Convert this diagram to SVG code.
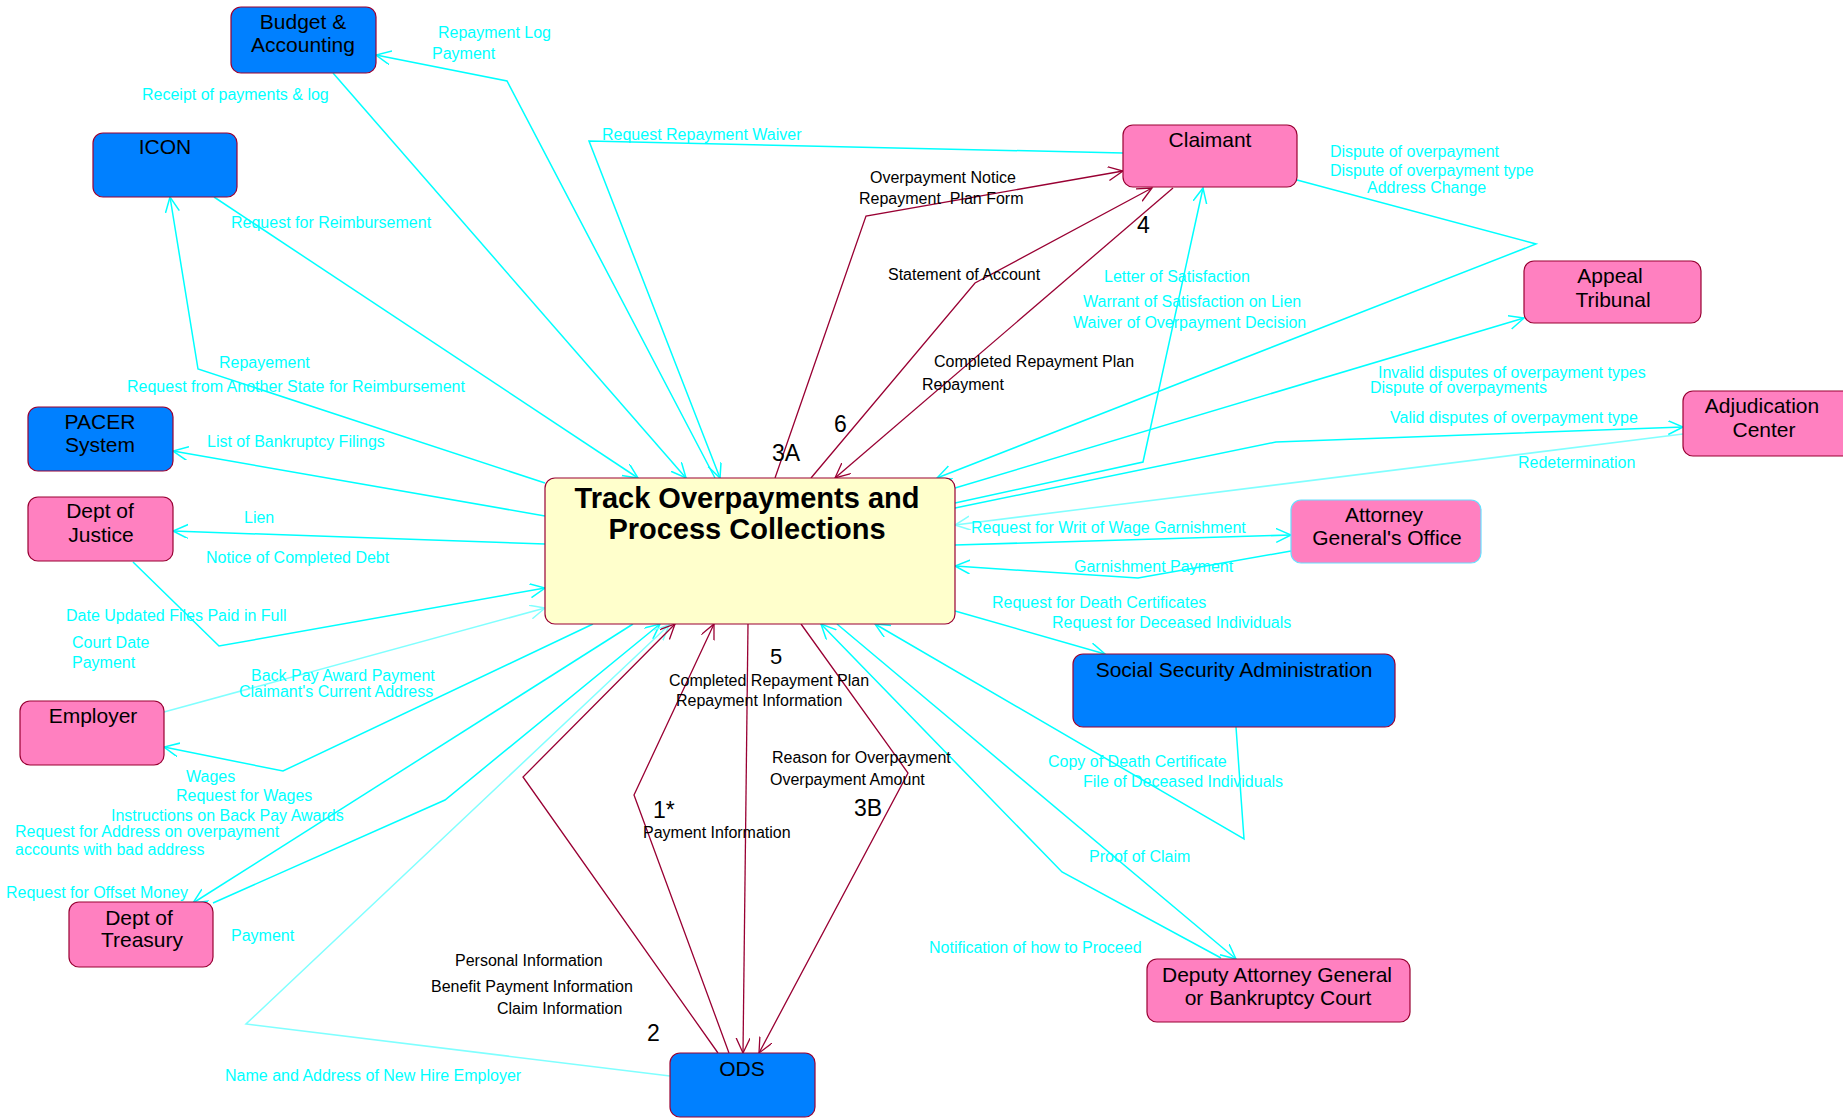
<svg xmlns="http://www.w3.org/2000/svg" width="1843" height="1118" viewBox="0 0 1843 1118">
<style>
.n rect{stroke:#990033;stroke-width:1.2}
.blue{fill:#0080FF}
.pink{fill:#FF80C0}
.yel{fill:#FFFFCC}
.nt{font-family:"Liberation Sans",Arial,sans-serif;font-size:21px;fill:#000;text-anchor:middle}
.tt{font-family:"Liberation Sans",Arial,sans-serif;font-size:29px;font-weight:bold;fill:#000;text-anchor:middle}
.c{fill:none;stroke:#00FFFF;stroke-width:1.5}
.cl{fill:none;stroke:#80FFFF;stroke-width:1.5}
.r{fill:none;stroke:#990033;stroke-width:1.3}
.lc{font-family:"Liberation Sans",Arial,sans-serif;font-size:16px;fill:#00FFFF}
.lb{font-family:"Liberation Sans",Arial,sans-serif;font-size:16px;fill:#000}
.num{font-family:"Liberation Sans",Arial,sans-serif;font-size:23px;fill:#000}
</style>
<defs>
<marker id="ac" markerUnits="userSpaceOnUse" markerWidth="18" markerHeight="16" refX="15" refY="7" orient="auto"><path d="M0,0 L15,7 L0,14" fill="none" stroke="#00FFFF" stroke-width="1.5"/></marker>
<marker id="acl" markerUnits="userSpaceOnUse" markerWidth="18" markerHeight="16" refX="15" refY="7" orient="auto"><path d="M0,0 L15,7 L0,14" fill="none" stroke="#80FFFF" stroke-width="1.5"/></marker>
<marker id="ar" markerUnits="userSpaceOnUse" markerWidth="18" markerHeight="16" refX="15" refY="7" orient="auto"><path d="M0,0 L15,7 L0,14" fill="none" stroke="#990033" stroke-width="1.3"/></marker>
</defs>
<rect width="1843" height="1118" fill="#FFFFFF"/>

<g id="connectors">
<path class="c" d="M333,73 L686,478" marker-end="url(#ac)"/>
<path class="c" d="M715,478 L507,81 L376,55" marker-end="url(#ac)"/>
<path class="c" d="M214,197 L638,478" marker-end="url(#ac)"/>
<path class="c" d="M545,483 L198,369 L170,197" marker-end="url(#ac)"/>
<path class="c" d="M545,516 L173,451" marker-end="url(#ac)"/>
<path class="c" d="M545,544 L173,531" marker-end="url(#ac)"/>
<path class="c" d="M133,562 L219,646 L545,588" marker-end="url(#ac)"/>
<path class="cl" d="M164,712 L545,608" marker-end="url(#acl)"/>
<path class="c" d="M593,624 L283,771 L164,747" marker-end="url(#ac)"/>
<path class="c" d="M633,624 L193,903" marker-end="url(#ac)"/>
<path class="c" d="M213,903 L445,800 L660,624" marker-end="url(#ac)"/>
<path class="cl" d="M670,1076 L246,1024 L669,625" marker-end="url(#acl)"/>
<path class="c" d="M1123,153 L589,141 L720,478" marker-end="url(#ac)"/>
<path class="c" d="M1297,180 L1536,244 L937,478" marker-end="url(#ac)"/>
<path class="c" d="M955,488 L1524,318" marker-end="url(#ac)"/>
<path class="c" d="M955,503 L1143,462 L1203,188" marker-end="url(#ac)"/>
<path class="c" d="M955,508 L1276,442 L1683,427" marker-end="url(#ac)"/>
<path class="cl" d="M1683,434 L955,525" marker-end="url(#acl)"/>
<path class="c" d="M955,545 L1291,535" marker-end="url(#ac)"/>
<path class="c" d="M1291,551 L1138,578 L955,566" marker-end="url(#ac)"/>
<path class="c" d="M955,611 L1105,654" marker-end="url(#ac)"/>
<path class="c" d="M1236,727 L1244,839 L875,624" marker-end="url(#ac)"/>
<path class="c" d="M837,624 L1236,959" marker-end="url(#ac)"/>
<path class="c" d="M1221,958 L1062,872 L821,624" marker-end="url(#ac)"/>
<path class="r" d="M775,478 L866,216 L1123,171" marker-end="url(#ar)"/>
<path class="r" d="M811,478 L975,283 L1152,188" marker-end="url(#ar)"/>
<path class="r" d="M1173,188 L835,478" marker-end="url(#ar)"/>
<path class="r" d="M718,1053 L523,777 L675,624" marker-end="url(#ar)"/>
<path class="r" d="M729,1053 L634,795 L714,624" marker-end="url(#ar)"/>
<path class="r" d="M748,624 L743,1053" marker-end="url(#ar)"/>
<path class="r" d="M801,624 L908,773 L759,1053" marker-end="url(#ar)"/>
</g>

<g id="labels">
<text class="lc" x="438" y="38">Repayment Log</text>
<text class="lc" x="432" y="59">Payment</text>
<text class="lc" x="142" y="100">Receipt of payments &amp; log</text>
<text class="lc" x="602" y="140">Request Repayment Waiver</text>
<text class="lc" x="231" y="228">Request for Reimbursement</text>
<text class="lc" x="219" y="368">Repayement</text>
<text class="lc" x="127" y="392">Request from Another State for Reimbursement</text>
<text class="lc" x="207" y="447">List of Bankruptcy Filings</text>
<text class="lc" x="244" y="523">Lien</text>
<text class="lc" x="206" y="563">Notice of Completed Debt</text>
<text class="lc" x="66" y="621">Date Updated Files Paid in Full</text>
<text class="lc" x="72" y="648">Court Date</text>
<text class="lc" x="72" y="668">Payment</text>
<text class="lc" x="251" y="681">Back Pay Award Payment</text>
<text class="lc" x="239" y="697">Claimant's Current Address</text>
<text class="lc" x="186" y="782">Wages</text>
<text class="lc" x="176" y="801">Request for Wages</text>
<text class="lc" x="111" y="821">Instructions on Back Pay Awards</text>
<text class="lc" x="15" y="837">Request for Address on overpayment</text>
<text class="lc" x="15" y="855">accounts with bad address</text>
<text class="lc" x="6" y="898">Request for Offset Money</text>
<text class="lc" x="231" y="941">Payment</text>
<text class="lc" x="225" y="1081">Name and Address of New Hire Employer</text>
<text class="lc" x="1104" y="282">Letter of Satisfaction</text>
<text class="lc" x="1083" y="307">Warrant of Satisfaction on Lien</text>
<text class="lc" x="1073" y="328">Waiver of Overpayment Decision</text>
<text class="lc" x="1330" y="157">Dispute of overpayment</text>
<text class="lc" x="1330" y="176">Dispute of overpayment type</text>
<text class="lc" x="1367" y="193">Address Change</text>
<text class="lc" x="1378" y="378">Invalid disputes of overpayment types</text>
<text class="lc" x="1370" y="393">Dispute of overpayments</text>
<text class="lc" x="1390" y="423">Valid disputes of overpayment type</text>
<text class="lc" x="1518" y="468">Redetermination</text>
<text class="lc" x="971" y="533">Request for Writ of Wage Garnishment</text>
<text class="lc" x="1074" y="572">Garnishment Payment</text>
<text class="lc" x="992" y="608">Request for Death Certificates</text>
<text class="lc" x="1052" y="628">Request for Deceased Individuals</text>
<text class="lc" x="1048" y="767">Copy of Death Certificate</text>
<text class="lc" x="1083" y="787">File of Deceased Individuals</text>
<text class="lc" x="1089" y="862">Proof of Claim</text>
<text class="lc" x="929" y="953">Notification of how to Proceed</text>

<text class="lb" x="870" y="183">Overpayment Notice</text>
<text class="lb" x="859" y="204" xml:space="preserve">Repayment  Plan Form</text>
<text class="lb" x="888" y="280">Statement of Account</text>
<text class="lb" x="934" y="367">Completed Repayment Plan</text>
<text class="lb" x="922" y="390">Repayment</text>
<text class="lb" x="669" y="686">Completed Repayment Plan</text>
<text class="lb" x="676" y="706">Repayment Information</text>
<text class="lb" x="772" y="763">Reason for Overpayment</text>
<text class="lb" x="770" y="785">Overpayment Amount</text>
<text class="lb" x="643" y="838">Payment Information</text>
<text class="lb" x="455" y="966">Personal Information</text>
<text class="lb" x="431" y="992">Benefit Payment Information</text>
<text class="lb" x="497" y="1014">Claim Information</text>
<text class="num" x="772" y="461">3A</text>
<text class="num" x="834" y="432">6</text>
<text class="num" x="1137" y="233">4</text>
<text class="num" x="770" y="664" style="font-size:22px">5</text>
<text class="num" x="854" y="816">3B</text>
<text class="num" x="653" y="818">1*</text>
<text class="num" x="647" y="1041">2</text>
</g>

<g id="node-process" class="n"><rect class="yel" x="545" y="478" width="410" height="146" rx="10"/><text class="tt" x="747" y="508">Track Overpayments and</text><text class="tt" x="747" y="539">Process Collections</text></g>
<g id="node-budget" class="n"><rect class="blue" x="231" y="7" width="145" height="66" rx="10"/><text class="nt" x="303" y="29">Budget &amp;</text><text class="nt" x="303" y="52">Accounting</text></g>
<g id="node-icon" class="n"><rect class="blue" x="93" y="133" width="144" height="64" rx="10"/><text class="nt" x="165" y="154">ICON</text></g>
<g id="node-pacer" class="n"><rect class="blue" x="28" y="407" width="145" height="64" rx="10"/><text class="nt" x="100" y="429">PACER</text><text class="nt" x="100" y="452">System</text></g>
<g id="node-doj" class="n"><rect class="pink" x="28" y="497" width="145" height="64" rx="10"/><text class="nt" x="100" y="518">Dept of</text><text class="nt" x="101" y="542">Justice</text></g>
<g id="node-employer" class="n"><rect class="pink" x="20" y="701" width="144" height="64" rx="10"/><text class="nt" x="93" y="723">Employer</text></g>
<g id="node-treasury" class="n"><rect class="pink" x="69" y="902" width="144" height="65" rx="10"/><text class="nt" x="139" y="925">Dept of</text><text class="nt" x="142" y="947">Treasury</text></g>
<g id="node-ods" class="n"><rect class="blue" x="670" y="1053" width="145" height="64" rx="10"/><text class="nt" x="742" y="1076">ODS</text></g>
<g id="node-claimant" class="n"><rect class="pink" x="1123" y="125" width="174" height="62" rx="10"/><text class="nt" x="1210" y="147">Claimant</text></g>
<g id="node-appeal" class="n"><rect class="pink" x="1524" y="261" width="177" height="62" rx="10"/><text class="nt" x="1610" y="283">Appeal</text><text class="nt" x="1613" y="307">Tribunal</text></g>
<g id="node-adjudication" class="n"><rect class="pink" x="1683" y="391" width="170" height="65" rx="10"/><text class="nt" x="1762" y="413">Adjudication</text><text class="nt" x="1764" y="437">Center</text></g>
<g id="node-attorney" class="n"><rect class="pink" x="1291" y="500" width="190" height="63" rx="10" style="stroke:#66E0FF"/><text class="nt" x="1384" y="522">Attorney</text><text class="nt" x="1387" y="545">General's Office</text></g>
<g id="node-ssa" class="n"><rect class="blue" x="1073" y="654" width="322" height="73" rx="10"/><text class="nt" x="1234" y="677">Social Security Administration</text></g>
<g id="node-deputy" class="n"><rect class="pink" x="1147" y="959" width="263" height="63" rx="10"/><text class="nt" x="1277" y="982">Deputy Attorney General</text><text class="nt" x="1278" y="1005">or Bankruptcy Court</text></g>
</svg>
